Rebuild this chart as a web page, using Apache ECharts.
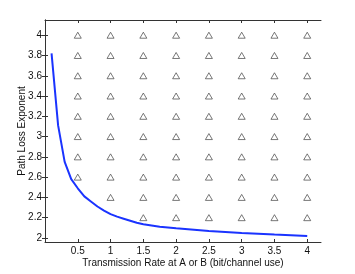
<!DOCTYPE html>
<html>
<head>
<meta charset="utf-8">
<script src="https://cdn.jsdelivr.net/npm/echarts@6/dist/echarts.min.js"></script>
<style>html,body{margin:0;padding:0;background:#fff}#c{width:355px;height:274px}</style>
</head>
<body>
<div id="c"></div>
<script>
var xTicks = [0.5, 1, 1.5, 2, 2.5, 3, 3.5, 4];
var yTicks = [2, 2.2, 2.4, 2.6, 2.8, 3, 3.2, 3.4, 3.6, 3.8, 4];
var curveX = [0.1, 0.2, 0.3, 0.4, 0.5, 0.6, 0.7, 0.8, 0.9, 1.0, 1.1, 1.2, 1.3, 1.4, 1.5, 1.75, 2.0, 2.5, 3.0, 3.5, 4.0];
var curveY = [3.82, 3.11, 2.75, 2.58, 2.49, 2.41, 2.36, 2.31, 2.27, 2.235, 2.21, 2.19, 2.17, 2.15, 2.135, 2.11, 2.095, 2.068, 2.05, 2.034, 2.02];
var triX = [0.5, 1, 1.5, 2, 2.5, 3, 3.5, 4];
var triY = [2.2, 2.4, 2.6, 2.8, 3, 3.2, 3.4, 3.6, 3.8, 4];
var triMinX = {"2.2": 1.5, "2.4": 1, "2.6": 0.5, "2.8": 0.5, "3": 0.5, "3.2": 0.5, "3.4": 0.5, "3.6": 0.5, "3.8": 0.5, "4": 0.5};

var triData = [];
triY.forEach(function (y) {
  triX.forEach(function (x) {
    if (x >= triMinX[String(y)]) triData.push([x, y]);
  });
});
var lineData = curveX.map(function (x, i) { return [x, curveY[i]]; });

var axisCol = '#333';
var font = 'Liberation Sans, Arial, sans-serif';
var chart = echarts.init(document.getElementById('c'));
chart.setOption({
  animation: false,
  grid: {left: 45, top: 20, width: 276, height: 222, containLabel: false},
  xAxis: [{
    type: 'value', min: 0, max: 4.21, position: 'bottom',
    name: 'Transmission Rate at A or B (bit/channel use)',
    nameLocation: 'middle', nameGap: 16, nameMoveOverlap: false,
    nameTextStyle: {color: '#111', fontSize: 10, fontFamily: font},
    axisLine: {show: true, lineStyle: {color: axisCol, width: 1}},
    axisTick: {show: true, inside: true, length: 3, customValues: xTicks, lineStyle: {color: axisCol}},
    axisLabel: {customValues: xTicks, color: '#111', fontSize: 10, fontFamily: font, margin: 4},
    splitLine: {show: false}
  }, {
    type: 'value', min: 0, max: 4.21, position: 'top',
    axisLine: {show: true, lineStyle: {color: axisCol, width: 1}},
    axisTick: {show: true, inside: true, length: 3, customValues: xTicks, lineStyle: {color: axisCol}},
    axisLabel: {show: false},
    splitLine: {show: false}
  }],
  yAxis: [{
    type: 'value', min: 1.96, max: 4.15, position: 'left',
    name: 'Path Loss Exponent',
    nameLocation: 'middle', nameGap: 18, nameMoveOverlap: false,
    nameTextStyle: {color: '#111', fontSize: 10, fontFamily: font},
    axisLine: {show: true, lineStyle: {color: axisCol, width: 1}},
    axisTick: {show: true, inside: true, length: 3, customValues: yTicks, lineStyle: {color: axisCol}},
    axisLabel: {customValues: yTicks, color: '#111', fontSize: 10, fontFamily: font, margin: 3},
    splitLine: {show: false}
  }, {
    type: 'value', min: 1.96, max: 4.15, position: 'right',
    axisLine: {show: true, lineStyle: {color: axisCol, width: 1}},
    axisTick: {show: true, inside: true, length: 3, customValues: yTicks, lineStyle: {color: axisCol}},
    axisLabel: {show: false},
    splitLine: {show: false}
  }],
  series: [{
    type: 'line', data: lineData, smooth: false, showSymbol: false,
    lineStyle: {color: '#1a33ff', width: 2}, z: 3
  }, {
    type: 'scatter', data: triData, symbol: 'triangle', symbolSize: [7, 6],
    itemStyle: {color: '#fff', borderColor: '#444', borderWidth: 0.9}, z: 2
  }]
});
</script>
</body>
</html>
